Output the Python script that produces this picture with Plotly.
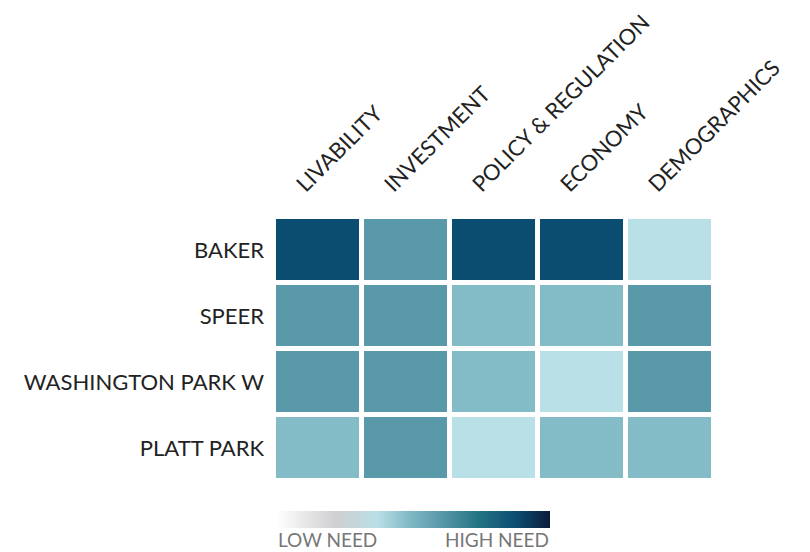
import plotly.graph_objects as go

# need scores (0 = low need, 10 = high need)
categories = ['LIVABILITY', 'INVESTMENT', 'POLICY & REGULATION', 'ECONOMY', 'DEMOGRAPHICS']
neighborhoods = ['BAKER', 'SPEER', 'WASHINGTON PARK W', 'PLATT PARK']
baker = [8.8, 6.0, 8.8, 8.8, 3.7]
speer = [6.0, 6.0, 4.8, 4.8, 6.0]
wash_park_w = [6.0, 6.0, 4.8, 3.7, 6.0]
platt_park = [4.8, 6.0, 3.7, 4.8, 4.8]

need_scale = [
    [0.0, '#ffffff'],
    [0.22, '#cfcfd1'],
    [0.37, '#b9dfe7'],
    [0.48, '#83bbc7'],
    [0.60, '#5999a9'],
    [0.73, '#267686'],
    [0.88, '#0b4c71'],
    [1.0, '#0c1b3a'],
]

font_family = 'Lato, "Noto Sans", sans-serif'
# page body has an 8px margin, so the figure is drawn 8px smaller
fig_w, fig_h = 802, 544
m_l, m_r, m_t, m_b = 266, 96, 209, 71
plot_w = fig_w - m_l - m_r
plot_h = fig_h - m_t - m_b

fig = go.Figure(go.Heatmap(
    z=[baker, speer, wash_park_w, platt_park],
    x=categories,
    y=neighborhoods,
    zmin=0, zmax=10,
    colorscale=need_scale,
    xgap=5, ygap=5,
    hovertemplate='%{y}<br>%{x}: %{z}<extra></extra>',
    colorbar=dict(
        orientation='h',
        x=2 / plot_w, xanchor='left',
        y=-30 / plot_h, yanchor='top',
        len=274 / plot_w, lenmode='fraction',
        thickness=17,
        xpad=0, ypad=0,
        outlinewidth=0,
        showticklabels=False,
        ticks='',
    ),
))

fig.update_xaxes(side='top', tickangle=-45, showgrid=False, zeroline=False,
                 automargin=False, ticks='', ticklabelshift=-20, ticklabelstandoff=15,
                 tickfont=dict(size=22, color='#222222', family=font_family))
fig.update_yaxes(autorange='reversed', showgrid=False, zeroline=False, ticks='',
                 automargin=False, ticklabelstandoff=9,
                 tickfont=dict(size=22, color='#222222', family=font_family))

fig.add_annotation(text='LOW NEED', x=2 / plot_w, xanchor='left', xref='paper',
                   y=-58 / plot_h, yanchor='middle', yref='paper', showarrow=False,
                   font=dict(size=19, color='#777777', family=font_family))
fig.add_annotation(text='HIGH NEED', x=277 / plot_w, xanchor='right', xref='paper',
                   y=-58 / plot_h, yanchor='middle', yref='paper', showarrow=False,
                   font=dict(size=19, color='#777777', family=font_family))

fig.update_layout(
    width=fig_w, height=fig_h,
    margin=dict(l=m_l, r=m_r, t=m_t, b=m_b),
    paper_bgcolor='white', plot_bgcolor='white',
    font=dict(family=font_family),
)

fig.write_html("out.html")
